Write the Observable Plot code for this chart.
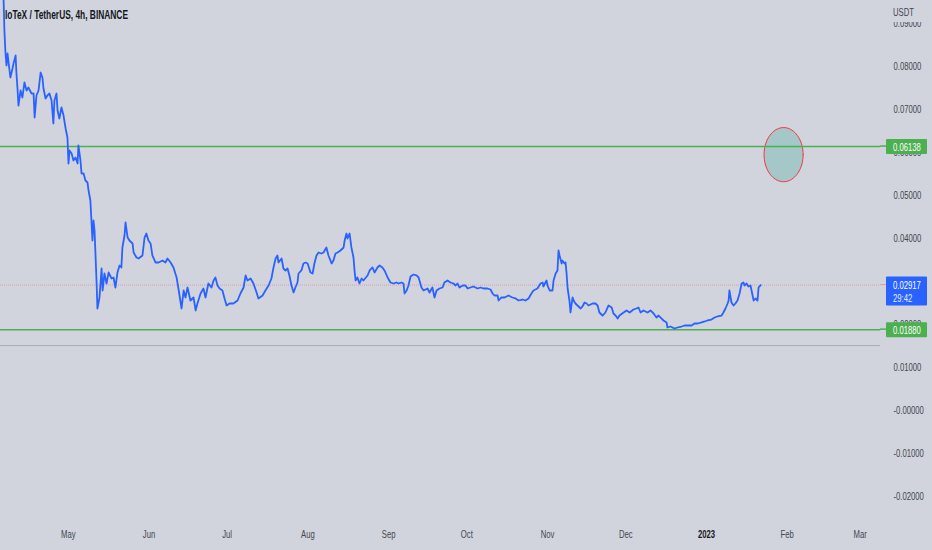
<!DOCTYPE html>
<html>
<head>
<meta charset="utf-8">
<script src="https://cdn.jsdelivr.net/npm/d3@7"></script>
<script src="https://cdn.jsdelivr.net/npm/@observablehq/plot@0.6"></script>
<style>
  html, body { margin: 0; padding: 0; background: #d1d4dc; }
  #chart { width: 932px; height: 550px; }
</style>
</head>
<body>
<div id="chart"></div>
<script>
// ---- data ----
const title = "IoTeX / TetherUS, 4h, BINANCE";
const startDate = "2022-04-05";
// days after startDate for each point of the 4h close line
const days = [
  0.9,1.2,1.5,1.9,2.3,2.7,3.1,3.8,4.6,5.0,5.8,6.1,6.5,6.9,7.7,8.4,9.2,10.0,10.7,11.9,12.7,13.1,13.8,14.6,15.4,16.1,16.5,17.3,18.0,18.8,19.6,20.3,20.7,21.5,21.9,22.6,23.4,24.2,25.0,25.7,26.1,26.5,27.3,28.0,28.8,29.6,29.9,30.7,31.1,31.9,32.6,33.4,33.8,34.5,
  35.3,35.7,36.1,36.9,37.2,38.0,38.8,39.2,39.9,40.7,41.5,42.6,43.4,44.1,44.9,45.7,46.4,46.8,47.6,48.0,48.8,49.5,50.7,51.1,52.2,53.0,54.5,55.3,56.0,56.8,57.6,58.3,59.5,60.7,62.2,63.3,64.1,65.3,66.4,67.6,68.3,69.5,70.3,71.0,71.8,72.9,74.1,74.9,75.6,76.8,77.9,78.7,79.8,81.0,81.8,82.5,83.3,84.1,85.2,86.0,86.8,87.9,
  89.4,91.0,92.1,93.3,94.1,94.8,96.0,97.1,98.3,99.0,100.6,101.7,102.9,104.0,104.8,105.6,106.3,106.7,107.9,108.6,109.4,110.2,110.9,111.7,112.5,113.2,114.0,114.4,115.5,116.3,117.1,117.9,119.0,119.8,120.5,121.3,122.1,123.2,124.0,125.1,125.9,127.1,127.8,128.6,129.4,130.5,131.7,132.1,132.8,133.2,134.0,134.7,135.5,135.9,136.3,137.0,137.8,138.6,139.3,140.9,141.7,142.8,143.6,144.7,145.5,146.6,147.4,148.6,
  149.7,150.9,152.0,152.8,153.9,154.7,155.1,155.9,156.6,157.4,158.5,159.7,160.5,161.6,162.4,163.9,164.7,165.8,166.6,167.4,168.5,169.7,170.4,171.6,172.7,173.9,174.7,175.4,176.2,177.4,178.5,179.3,180.4,181.6,183.1,184.3,185.4,186.9,188.1,188.9,189.6,190.8,191.2,192.3,193.5,195.0,196.5,197.7,198.9,200.4,201.5,202.7,203.8,204.6,206.1,
  207.3,208.1,208.4,209.6,210.0,210.8,211.9,212.3,213.1,213.8,214.2,214.6,215.4,215.7,216.5,216.9,217.3,217.7,218.4,218.8,219.6,220.0,220.7,221.5,222.7,223.4,224.2,225.0,225.7,227.3,228.4,229.2,229.9,231.1,232.2,233.4,234.6,235.3,236.1,236.9,237.6,239.2,240.3,241.5,243.0,244.1,244.9,245.7,246.8,248.4,249.5,250.7,251.8,252.6,253.7,254.5,255.7,256.0,257.2,258.7,259.9,261.4,262.6,263.7,265.3,266.4,267.6,269.1,270.3,271.4,272.9,274.1,275.2,276.8,277.5,278.3,279.1,279.5,279.8,280.6,281.4,282.1,282.9,283.7,284.5,285.2,285.6,286.4,287.1,287.9,288.7,289.1,289.8,290.6,291.0,291.8
];
const prices = [
  0.0980,0.09535,0.08837,0.08326,0.08023,0.08302,0.08093,0.07744,0.07953,0.08070,0.08256,0.07860,0.07512,0.07093,0.07442,0.07279,0.07628,0.07442,0.07512,0.07372,0.07372,0.06814,0.07326,0.07442,0.07860,0.07744,0.07488,0.07256,0.07326,0.07372,0.07209,0.06674,0.07209,0.07372,0.06977,0.06791,0.07047,0.06860,0.06558,0.06349,0.05744,0.06047,0.05977,0.05814,0.05884,0.05744,0.06163,0.05814,0.05512,0.05512,0.05349,0.05302,0.05116,0.04884,
  0.03953,0.04419,0.04186,0.02953,0.02372,0.02628,0.03302,0.02791,0.03186,0.02953,0.03209,0.03070,0.03093,0.02860,0.03209,0.03372,0.03326,0.03791,0.04070,0.04372,0.04023,0.03953,0.03884,0.03674,0.03558,0.03535,0.03605,0.04023,0.04116,0.03953,0.03884,0.03605,0.03442,0.03442,0.03488,0.03442,0.03535,0.03442,0.03326,0.03093,0.02837,0.02372,0.02791,0.02628,0.02860,0.02558,0.02628,0.02326,0.02488,0.02721,0.02837,0.02628,0.02953,0.02860,0.03023,0.03093,0.02907,0.02837,0.02791,0.02605,0.02442,0.02488,
  0.02488,0.02558,0.02721,0.02860,0.03140,0.03023,0.03070,0.02953,0.02744,0.02605,0.02674,0.02791,0.02907,0.03070,0.03326,0.03535,0.03605,0.03442,0.03535,0.03302,0.03256,0.03302,0.03140,0.02907,0.02744,0.02860,0.02977,0.03186,0.03256,0.03419,0.03442,0.03419,0.03209,0.03186,0.03419,0.03605,0.03674,0.03651,0.03674,0.03791,0.03605,0.03419,0.03488,0.03651,0.03674,0.03721,0.03791,0.03953,0.04116,0.04000,0.04116,0.03791,0.03558,0.03256,0.03023,0.03093,0.02953,0.03070,0.03023,0.03140,0.03256,0.03326,0.03209,0.03326,0.03372,0.03326,0.03256,0.03093,
  0.02977,0.02953,0.02977,0.02953,0.02977,0.02953,0.02721,0.02791,0.02907,0.03116,0.03163,0.03140,0.03093,0.02860,0.02791,0.02837,0.02744,0.02860,0.02628,0.02791,0.02837,0.02860,0.02977,0.03023,0.02977,0.02953,0.02907,0.02953,0.02860,0.02907,0.02907,0.02837,0.02860,0.02884,0.02837,0.02860,0.02837,0.02837,0.02814,0.02721,0.02674,0.02674,0.02558,0.02628,0.02628,0.02674,0.02628,0.02605,0.02558,0.02581,0.02558,0.02605,0.02721,0.02791,0.02837,
  0.02953,0.02977,0.02884,0.03023,0.02907,0.02791,0.02791,0.03023,0.03186,0.03256,0.03721,0.03605,0.03419,0.03488,0.03419,0.03442,0.03186,0.02837,0.02558,0.02279,0.02628,0.02558,0.02488,0.02442,0.02372,0.02419,0.02512,0.02488,0.02442,0.02488,0.02488,0.02442,0.02279,0.02209,0.02279,0.02442,0.02395,0.02256,0.02209,0.02140,0.02209,0.02279,0.02326,0.02279,0.02349,0.02372,0.02395,0.02279,0.02326,0.02279,0.02326,0.02256,0.02163,0.02209,0.02140,0.02093,0.02047,0.01930,0.01953,0.01907,0.01930,0.01953,0.01977,0.01977,0.01977,0.02023,0.02023,0.02047,0.02070,0.02093,0.02116,0.02163,0.02186,0.02209,0.02279,0.02372,0.02488,0.02558,0.02791,0.02512,0.02442,0.02488,0.02558,0.02721,0.02953,0.02977,0.02907,0.02953,0.02884,0.02907,0.02674,0.02558,0.02605,0.02558,0.02860,0.02917
];
const lastPrice = 0.02917;
const countdown = "29:42";
const levelPrices = [0.06138, 0.01880];
const greyLevel = 0.0151;
const yTicks = [0.09, 0.08, 0.07, 0.06, 0.05, 0.04, 0.03, 0.02, 0.01, 0, -0.01, -0.02];
const yTickLabels = ["0.09000","0.08000","0.07000","0.06000","0.05000","0.04000","0.03000","0.02000","0.01000","-0.00000","-0.01000","-0.02000"];
const monthTicks = ["2022-05-01","2022-06-01","2022-07-01","2022-08-01","2022-09-01","2022-10-01","2022-11-01","2022-12-01","2023-01-01","2023-02-01","2023-03-01"];
const monthLabels = ["May","Jun","Jul","Aug","Sep","Oct","Nov","Dec","2023","Feb","Mar"];
// ellipse annotation: centre (days after start, price) and half-axes
const ellipseCenter = {day: 300.6, price: 0.0595};
const ellipseHalf = {days: 7.5, price: 0.0063};
const xDomainDays = [0, 337.8];
const yDomain = [-0.02605, 0.09535];

// ---- build ----
const t0 = Date.parse(startDate + "T00:00:00Z");
const toDate = d => new Date(t0 + d * 864e5);
const series = days.map((d, i) => ({date: toDate(d), price: prices[i]}));
const ellipsePts = d3.range(0, 73).map(k => {
  const a = (k / 72) * 2 * Math.PI;
  return {date: toDate(ellipseCenter.day + ellipseHalf.days * Math.cos(a)),
          price: ellipseCenter.price + ellipseHalf.price * Math.sin(a)};
});
const months = monthTicks.map((m, i) => ({date: new Date(m + "T00:00:00Z"), label: monthLabels[i]}));

const FONT = "'Liberation Sans',Arial,sans-serif";
const GREEN = "#4caf50", BLUE = "#2962ff", AXIS_TXT = "#434651";

const chart = Plot.plot({
  width: 932, height: 550,
  marginLeft: 0, marginRight: 52, marginTop: 0, marginBottom: 28,
  style: {background: "#d1d4dc", fontFamily: FONT, overflow: "visible"},
  x: {type: "utc", domain: xDomainDays.map(toDate), axis: null},
  y: {domain: yDomain, axis: null},
  marks: [
    Plot.ruleY([greyLevel], {stroke: "#9a9ca5", strokeOpacity: 0.7, strokeWidth: 1}),
    Plot.ruleY([lastPrice], {stroke: "#f23645", strokeOpacity: 0.35, strokeWidth: 1, strokeDasharray: "1,1"}),
    Plot.line(ellipsePts, {x: "date", y: "price", fill: "rgba(8,153,129,0.22)", stroke: "#f23645", strokeWidth: 1}),
    Plot.ruleY(levelPrices, {stroke: GREEN, strokeWidth: 1.5}),
    Plot.line(series, {x: "date", y: "price", stroke: BLUE, strokeWidth: 1.8, clip: true}),
    Plot.axisY(yTicks, {anchor: "right", tickSize: 0, tickPadding: 13, textAnchor: "start",
      tickFormat: (d, i) => yTickLabels[i], fontSize: 11, fill: AXIS_TXT}),
    Plot.text(months.filter(m => m.label !== "2023"), {x: "date", text: "label", frameAnchor: "bottom", dy: 15, fontSize: 11, fill: AXIS_TXT}),
    Plot.text(months.filter(m => m.label === "2023"), {x: "date", text: "label", frameAnchor: "bottom", dy: 15, fontSize: 11, fill: "#131722", fontWeight: "bold"})
  ]
});

document.getElementById("chart").appendChild(chart);

// overlays on the price axis drawn with the plot's own y scale
const svg = d3.select(chart);
const y = chart.scale("y");
const ax = 886, aw = 41;
const addText = (x, yy, txt, fill, size = 11, weight = "normal") =>
  svg.append("text").attr("x", x).attr("y", yy).attr("fill", fill).attr("font-size", size)
     .attr("font-weight", weight).attr("font-family", FONT).attr("text-anchor", "start").text(txt);

svg.append("rect").attr("x", 880).attr("y", 0).attr("width", 52).attr("height", 22).attr("fill", "#d1d4dc");
addText(893, 16, "USDT", AXIS_TXT);

// green level labels
levelPrices.forEach(p => {
  const py = y.apply(p);
  svg.append("line").attr("x1", 880).attr("x2", ax).attr("y1", py).attr("y2", py).attr("stroke", GREEN).attr("stroke-width", 1.5);
  svg.append("rect").attr("x", ax).attr("y", py - 7).attr("width", aw).attr("height", 15).attr("fill", GREEN).attr("rx", 1);
  addText(893, py + 4.5, p.toFixed(5), "white");
});
// last price label
{
  const py = y.apply(lastPrice);
  svg.append("line").attr("x1", 880).attr("x2", ax).attr("y1", py).attr("y2", py).attr("stroke", "#f23645").attr("stroke-opacity", 0.35);
  svg.append("rect").attr("x", ax).attr("y", py - 8).attr("width", aw).attr("height", 29).attr("fill", BLUE).attr("rx", 1);
  addText(893, py + 4.5, lastPrice.toFixed(5), "white");
  addText(893, py + 17, countdown, "#e6ecff");
}

// condense every text horizontally (the reference uses a narrow face)
svg.selectAll("text").each(function () {
  const w = this.getComputedTextLength();
  if (w > 0) {
    this.setAttribute("textLength", (w * 0.7).toFixed(1));
    this.setAttribute("lengthAdjust", "spacingAndGlyphs");
  }
});

// title
const t = addText(5, 19, title, "#131722", 12, "bold");
t.attr("textLength", 123).attr("lengthAdjust", "spacingAndGlyphs");
</script>
</body>
</html>
